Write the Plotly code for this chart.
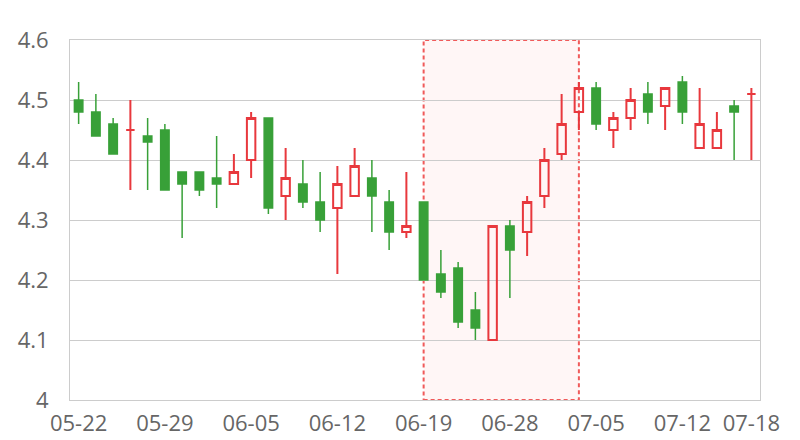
import plotly.graph_objects as go

dates = ["05-22", "05-23", "05-24", "05-25", "05-26",
         "05-29", "05-30", "05-31", "06-01", "06-02",
         "06-05", "06-06", "06-07", "06-08", "06-09",
         "06-12", "06-13", "06-14", "06-15", "06-16",
         "06-19", "06-20", "06-21", "06-22", "06-23",
         "06-28", "06-29", "06-30", "07-03", "07-04",
         "07-05", "07-06", "07-07", "07-10", "07-11",
         "07-12", "07-13", "07-14", "07-17", "07-18"]

open_ = [4.50, 4.48, 4.46, 4.45, 4.44, 4.45, 4.38, 4.38, 4.37, 4.36,
         4.40, 4.47, 4.34, 4.36, 4.33, 4.32, 4.34, 4.37, 4.33, 4.28,
         4.33, 4.21, 4.22, 4.15, 4.10, 4.29, 4.28, 4.34, 4.41, 4.48,
         4.52, 4.45, 4.47, 4.51, 4.49, 4.53, 4.42, 4.42, 4.49, 4.51]
high = [4.53, 4.51, 4.47, 4.50, 4.47, 4.46, 4.38, 4.38, 4.44, 4.41,
        4.48, 4.47, 4.42, 4.40, 4.38, 4.39, 4.42, 4.40, 4.35, 4.38,
        4.33, 4.25, 4.23, 4.18, 4.29, 4.30, 4.34, 4.42, 4.51, 4.53,
        4.53, 4.48, 4.52, 4.53, 4.52, 4.54, 4.52, 4.48, 4.50, 4.52]
low = [4.46, 4.44, 4.41, 4.35, 4.35, 4.35, 4.27, 4.34, 4.32, 4.36,
       4.37, 4.31, 4.30, 4.32, 4.28, 4.21, 4.34, 4.28, 4.25, 4.27,
       4.20, 4.17, 4.12, 4.10, 4.10, 4.17, 4.24, 4.32, 4.40, 4.45,
       4.45, 4.42, 4.45, 4.46, 4.45, 4.46, 4.42, 4.42, 4.40, 4.40]
close = [4.48, 4.44, 4.41, 4.45, 4.43, 4.35, 4.36, 4.35, 4.36, 4.38,
         4.47, 4.32, 4.37, 4.33, 4.30, 4.36, 4.39, 4.34, 4.28, 4.29,
         4.20, 4.18, 4.13, 4.12, 4.29, 4.25, 4.33, 4.40, 4.46, 4.52,
         4.46, 4.47, 4.50, 4.48, 4.52, 4.48, 4.46, 4.45, 4.48, 4.51]

label_idx = [0, 5, 10, 15, 20, 25, 30, 35, 39]
area_start, area_end = "06-19", "07-04"

RED = "#e8383d"
GREEN = "#38a038"
FONT = "Open Sans"
TXT = "#666666"

fig = go.Figure()
fig.add_trace(go.Candlestick(
    x=dates, open=open_, high=high, low=low, close=close,
    increasing=dict(line=dict(color=RED, width=2), fillcolor="rgba(0,0,0,0)"),
    decreasing=dict(line=dict(color=GREEN, width=1.5), fillcolor=GREEN),
    whiskerwidth=0, showlegend=False,
))

fig.add_shape(type="rect", xref="x", yref="y",
              x0=area_start, x1=area_end, y0=4.0, y1=4.6,
              fillcolor="rgba(255,0,0,0.035)",
              line=dict(color="#f05a5a", width=2, dash="4px,3px"),
              layer="below")

# page body has an 8px default margin, so the figure is 8px smaller
fig.update_layout(
    width=792, height=432,
    margin=dict(l=62, r=40, t=32, b=40),
    paper_bgcolor="white", plot_bgcolor="white",
    font=dict(family=FONT, size=22, color=TXT),
    boxgap=0.3,
    xaxis=dict(
        type="category", range=[-0.5, len(dates) - 0.5],
        rangeslider=dict(visible=False), automargin=False,
        tickvals=[dates[i] for i in label_idx],
        ticktext=[dates[i] for i in label_idx],
        showgrid=False, showline=True, linecolor="#cccccc", linewidth=1,
        mirror=True, ticks="", ticklabelstandoff=4,
        tickfont=dict(size=22, color=TXT),
    ),
    yaxis=dict(
        range=[4.0, 4.6], dtick=0.1, tick0=4.0, automargin=False,
        showgrid=True, gridcolor="#cccccc", gridwidth=1,
        showline=True, linecolor="#cccccc", linewidth=1, mirror=True,
        zeroline=False, ticks="", ticklabelstandoff=16,
        tickfont=dict(size=22, color=TXT),
    ),
)

fig.write_html("out.html")
